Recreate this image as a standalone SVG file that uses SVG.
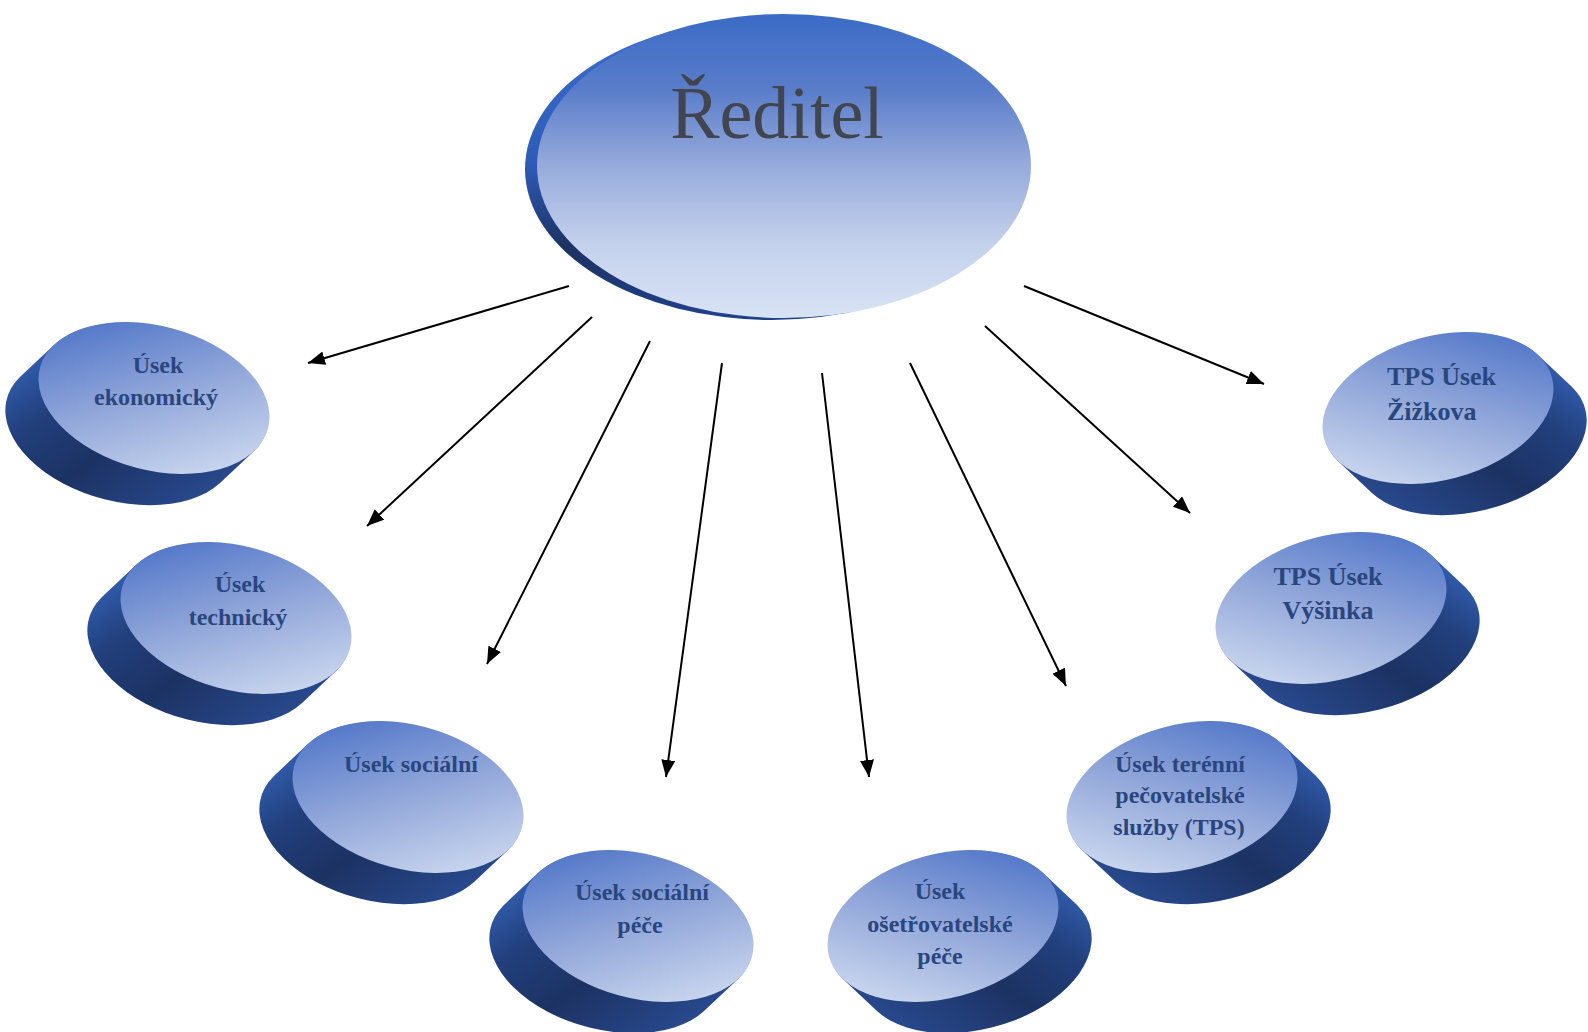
<svg xmlns="http://www.w3.org/2000/svg" xmlns:xlink="http://www.w3.org/1999/xlink" width="1588" height="1032" viewBox="0 0 1588 1032">
<style>
.lbl{font-family:"Liberation Serif","Times New Roman",serif;font-weight:bold;font-size:24px;fill:#29467f;text-anchor:middle}
.lbl2{font-family:"Liberation Serif","Times New Roman",serif;font-weight:bold;font-size:26px;fill:#29467f;text-anchor:middle}
.title{font-family:"Liberation Serif","Times New Roman",serif;font-size:74px;fill:#40454f;text-anchor:middle}
.arr{stroke:#000;stroke-width:2;fill:none;marker-end:url(#ah)}
</style>
<defs>
<marker id="ah" markerUnits="userSpaceOnUse" markerWidth="18" markerHeight="14" refX="17" refY="7" orient="auto">
<path d="M0,0 L17,7 L0,14 Z" fill="#000"/>
</marker>
<linearGradient id="topFace" x1="0" y1="0" x2="0" y2="1">
<stop offset="0" stop-color="#3a6bc6"/>
<stop offset="0.25" stop-color="#5a7dca"/>
<stop offset="0.5" stop-color="#97abdb"/>
<stop offset="0.75" stop-color="#c3d0ec"/>
<stop offset="1" stop-color="#d8e3f4"/>
</linearGradient>
<linearGradient id="topSide" x1="0" y1="0" x2="0.3" y2="1">
<stop offset="0" stop-color="#3e70d2"/>
<stop offset="0.45" stop-color="#2d5bb6"/>
<stop offset="0.72" stop-color="#1c3262"/>
<stop offset="1" stop-color="#21408a"/>
</linearGradient>
<linearGradient id="faceG" x1="0" y1="0" x2="1" y2="1">
<stop offset="0" stop-color="#3d67c3"/>
<stop offset="0.5" stop-color="#93a8da"/>
<stop offset="1" stop-color="#dce6f5"/>
</linearGradient>
<linearGradient id="sideG" x1="0" y1="0.2" x2="1" y2="0.8">
<stop offset="0" stop-color="#3a6cc8"/>
<stop offset="0.3" stop-color="#22407d"/>
<stop offset="0.55" stop-color="#1c3263"/>
<stop offset="1" stop-color="#2c509a"/>
</linearGradient>
<g id="cyl">
<g transform="rotate(15)">
<path fill="url(#sideG)" d="M110.4,25.4 L85.84,65.11 A118,72 0 0 1 -134.96,14.31 L-110.4,-25.4 A118,72 0 0 1 110.4,25.4 Z"/>
<ellipse cx="0" cy="0" rx="118" ry="72" fill="url(#faceG)"/>
</g>
</g>
</defs>
<rect width="1588" height="1032" fill="#ffffff"/>

<g id="connectors">
<line class="arr" x1="569" y1="286" x2="308" y2="363"/>
<line class="arr" x1="592" y1="317" x2="367" y2="526"/>
<line class="arr" x1="650" y1="341" x2="487" y2="664"/>
<line class="arr" x1="722" y1="363" x2="666" y2="777"/>
<line class="arr" x1="822" y1="373" x2="869" y2="777"/>
<line class="arr" x1="910" y1="363" x2="1066" y2="686"/>
<line class="arr" x1="985" y1="326" x2="1190" y2="513"/>
<line class="arr" x1="1024" y1="286" x2="1264" y2="384"/>
</g>

<g id="node-reditel">
<ellipse cx="772" cy="169" rx="247" ry="151" fill="url(#topSide)"/>
<ellipse cx="784" cy="166" rx="247" ry="152" fill="url(#topFace)"/>
<text class="title" x="777" y="138">Ředitel</text>
</g>

<g id="node-ekonomicky">
<use xlink:href="#cyl" transform="translate(154,398)"/>
<text class="lbl" x="158" y="373">Úsek</text>
<text class="lbl" x="156" y="405">ekonomický</text>
</g>

<g id="node-technicky">
<use xlink:href="#cyl" transform="translate(236,618)"/>
<text class="lbl" x="240" y="592">Úsek</text>
<text class="lbl" x="238" y="625">technický</text>
</g>

<g id="node-socialni">
<use xlink:href="#cyl" transform="translate(408,797)"/>
<text class="lbl" x="411" y="772">Úsek sociální</text>
</g>

<g id="node-socialni-pece">
<use xlink:href="#cyl" transform="translate(638,926)"/>
<text class="lbl" x="642" y="900">Úsek sociální</text>
<text class="lbl" x="640" y="933">péče</text>
</g>

<g id="node-osetrovatelske">
<use xlink:href="#cyl" transform="translate(943,926) scale(-1,1)"/>
<text class="lbl" x="940" y="899">Úsek</text>
<text class="lbl" x="940" y="932">ošetřovatelské</text>
<text class="lbl" x="940" y="964">péče</text>
</g>

<g id="node-terenni">
<use xlink:href="#cyl" transform="translate(1182,797) scale(-1,1)"/>
<text class="lbl" x="1180" y="772">Úsek terénní</text>
<text class="lbl" x="1180" y="803">pečovatelské</text>
<text class="lbl" x="1179" y="835">služby (TPS)</text>
</g>

<g id="node-vysinka">
<use xlink:href="#cyl" transform="translate(1331,608) scale(-1,1)"/>
<text class="lbl2" x="1328" y="585">TPS Úsek</text>
<text class="lbl2" x="1328" y="619">Výšinka</text>
</g>

<g id="node-zizkova">
<use xlink:href="#cyl" transform="translate(1438,408) scale(-1,1)"/>
<text class="lbl2" x="1387" y="385" style="text-anchor:start">TPS Úsek</text>
<text class="lbl2" x="1387" y="420" style="text-anchor:start">Žižkova</text>
</g>
</svg>
